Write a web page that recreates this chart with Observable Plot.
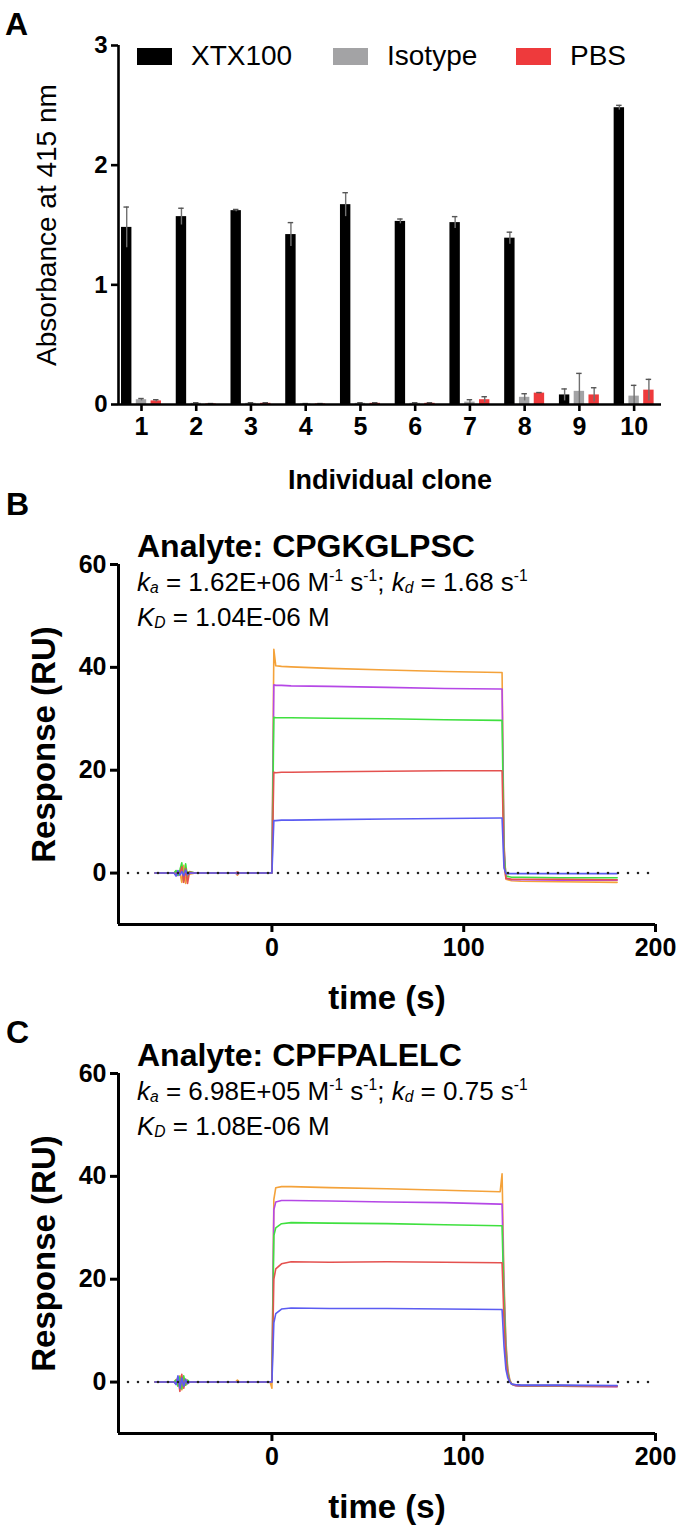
<!DOCTYPE html>
<html><head><meta charset="utf-8">
<script src="https://cdn.jsdelivr.net/npm/d3@7"></script>
<script src="https://cdn.jsdelivr.net/npm/@observablehq/plot@0.6"></script>
<style>
body{margin:0;background:#fff}
#page{position:relative;width:688px;height:1526px;font-family:"Liberation Sans",Arial,sans-serif;color:#000;overflow:hidden;background:#fff}
.abs{position:absolute;white-space:nowrap;line-height:1}
.plab{font-weight:bold;font-size:32px}
.ttl{font-weight:bold;font-size:32px}
.par{font-size:26px}
.par sub,.par sup{font-size:0.6em;line-height:0}
.par sub{vertical-align:-0.15em}
.sw{position:absolute;width:35px;height:17px}
.lt{position:absolute;font-size:28px;line-height:1}
.chart svg{overflow:visible}
.chart g[aria-label="y-axis tick label"] text,.chart g[aria-label="x-axis tick label"] text{font-weight:bold}
#chartA g[aria-label="y-axis label"] text{font-weight:normal;font-size:28px}
#chartA g[aria-label="x-axis label"] text{font-weight:bold;font-size:27px}
#chartB g[aria-label$="axis label"] text,#chartC g[aria-label$="axis label"] text{font-weight:bold;font-size:33px}
</style></head><body><div id="page"></div>
<script>
// ---------- Panel A data ----------
const clones = [1,2,3,4,5,6,7,8,9,10];
const groups = ["XTX100","Isotype","PBS"];
const groupColors = ["#000000","#a3a3a5","#ee3a3c"];
const xtx100    = [1.48,1.57,1.62,1.42,1.67,1.53,1.52,1.39,0.08,2.48];
const xtx100Err = [0.17,0.07,0.01,0.10,0.10,0.02,0.05,0.05,0.05,0.02];
const isotype    = [0.04,0.01,0.01,0.005,0.01,0.01,0.02,0.06,0.11,0.07];
const isotypeErr = [0.01,0.005,0.005,0.003,0.005,0.005,0.02,0.03,0.15,0.09];
const pbs    = [0.03,0.005,0.01,0.005,0.01,0.01,0.04,0.095,0.08,0.12];
const pbsErr = [0.01,0.003,0.005,0.003,0.005,0.005,0.025,0.005,0.06,0.09];
const absTicks = [0,1,2,3];

// ---------- Panels B / C data ----------
const curveNames  = ["conc 5","conc 4","conc 3","conc 2","conc 1"];
const curveColors = ["#f4a23a","#b547e6","#3fe03f","#e4514f","#5b5cf2"];
const timeTicks = [0,100,200];
const respTicks = [0,20,40,60];

const timesB  = [-61,-55,-51,-50,-49,-48,-47,-46,-45,-44,-43,-40,-19,-18,-17,-1,0,1,2,5,10,30,60,90,119,120,121,122,125,130,150,180];
const orangeB = [0,0,0,0.4,-0.3,0.2,-1.8,1.5,-2.0,0.3,-0.2,0, 0,-0.4,0, 0,0,43.5,40.3,40.2,40.1,39.8,39.5,39.2,39.0,39.0,6,-1.2,-1.5,-1.6,-1.7,-1.8];
const purpleB = [0,0,0,0.2,-0.5,0.3,0.8,-0.6,0.4,-0.3,0,0, 0,-0.2,0, 0,0,36.6,36.5,36.5,36.4,36.3,36.1,35.9,35.8,35.8,5,-1.0,-1.3,-1.3,-1.4,-1.4];
const greenB  = [0,0,0,0.5,-0.4,0.6,2.0,-1.5,1.8,-0.8,0.3,0, 0,0,0, 0,0,30.3,30.2,30.2,30.2,30.1,30.0,29.8,29.7,29.7,4,-0.6,-0.8,-0.8,-0.9,-0.9];
const redB    = [0,0,0,-0.3,0.4,-0.2,1.2,-1.8,0.9,-2.0,0.2,0, 0,0.2,0, 0,0,19.6,19.5,19.6,19.6,19.7,19.8,19.9,19.9,19.9,2,-1.0,-1.2,-1.2,-1.2,-1.3];
const blueB   = [0,0,0,-0.6,0.5,-0.4,0.3,-0.5,0.6,-0.3,0,0, 0,0,0, 0,0,10.2,10.2,10.3,10.3,10.4,10.5,10.6,10.7,10.7,1,-0.1,-0.1,-0.1,-0.1,-0.1];

const timesC  = [-61,-55,-51,-50,-49,-48,-47,-46,-45,-44,-43,-40,-19,-18,-17,-1,0,1,2,5,10,30,60,90,119,120,121,122,123,124,125,127,130,150,180];
const orangeC = [0,0,0,0.5,-0.4,1.2,-1.5,0.8,-0.6,0.3,0,0, 0,0.4,0, 0,-1.2,35.5,37.8,38.0,38.0,37.8,37.6,37.3,37.0,40.5,20,8,2.5,0.5,-0.4,-0.7,-0.8,-0.8,-0.9];
const purpleC = [0,0,0,0.3,-0.6,0.5,-0.8,0.6,-0.4,0.2,0,0, 0,0,0, 0,0,33.5,35.0,35.3,35.3,35.2,35.0,34.9,34.6,34.6,18,7,2,0.3,-0.4,-0.7,-0.8,-0.8,-0.9];
const greenC  = [0,0,0,0.4,-0.8,1.0,-1.3,1.2,-0.6,0.4,0,0, 0,0,0, 0,0,28.5,30.0,30.8,31.0,30.9,30.8,30.6,30.4,30.4,16,6,1.8,0.2,-0.4,-0.6,-0.7,-0.7,-0.8];
const redC    = [0,0,0,-0.4,1.0,-1.8,1.5,-1.2,0.6,-0.3,0,0, 0,0,0, 0,0,20.0,22.0,23.0,23.4,23.3,23.4,23.3,23.2,23.2,12,4.5,1.3,0.1,-0.4,-0.6,-0.7,-0.7,-0.8];
const blueC   = [0,0,0,-0.5,1.2,-1.2,0.8,-0.8,0.5,-0.3,0,0, 0,0,0, 0,0,11.5,13.3,14.2,14.4,14.3,14.3,14.2,14.1,14.1,7,2.5,0.8,0,-0.4,-0.5,-0.6,-0.6,-0.7];

// ---------- layout ----------
const page = document.getElementById("page");
const FONT = '"Liberation Sans", Arial, sans-serif';
function place(el, left, top){ el.style.position="absolute"; el.style.left=left+"px"; el.style.top=top+"px"; page.appendChild(el); return el; }
function html(cls, h, left, top){ const d=document.createElement("div"); d.className="abs "+cls; d.innerHTML=h; return place(d,left,top); }

// Panel A
const vals = {XTX100:[xtx100,xtx100Err], Isotype:[isotype,isotypeErr], PBS:[pbs,pbsErr]};
const barRows = clones.flatMap((c,i)=>groups.map(g=>({clone:c, group:g, value:vals[g][0][i], err:vals[g][1][i]})));
const offset = {XTX100:-0.27, Isotype:0, PBS:0.27};
const half = 0.095, cap = 0.05;
const cx = d => d.clone + offset[d.group];
const xDomA = [0.58, 10.5];

const chartA = Plot.plot({
  width:688, height:500, marginTop:45, marginBottom:96, marginLeft:118, marginRight:27,
  style:{fontFamily:FONT, background:"transparent", color:"#000"},
  x:{domain:xDomA}, y:{domain:[0,3]},
  color:{domain:groups, range:groupColors},
  marks:[
    Plot.rectY(barRows,{x1:d=>cx(d)-half, x2:d=>cx(d)+half, y1:0, y2:"value", fill:"group"}),
    Plot.ruleX(barRows,{x:cx, y1:d=>Math.max(0,d.value-d.err), y2:d=>d.value+d.err, stroke:"#707070", strokeWidth:1.4}),
    Plot.ruleY(barRows,{x1:d=>cx(d)-cap, x2:d=>cx(d)+cap, y:d=>d.value+d.err, stroke:"#555", strokeWidth:1.4}),
    Plot.ruleX([xDomA[0]],{stroke:"#000", strokeWidth:2.6}),
    Plot.ruleY([0],{stroke:"#000", strokeWidth:2.6}),
    Plot.axisY({ticks:absTicks, tickFormat:d=>String(d), tickSize:7, tickPadding:4, strokeWidth:2.6, fontSize:24, label:"Absorbance at 415 nm", labelAnchor:"center", labelArrow:"none", labelOffset:82}),
    Plot.axisX({ticks:clones, tickFormat:d=>String(d), tickSize:7, tickPadding:6, strokeWidth:2.6, fontSize:25, label:"Individual clone", labelAnchor:"center", labelArrow:"none", labelOffset:84})
  ]
});
const wA = document.createElement("div"); wA.id="chartA"; wA.className="chart"; wA.appendChild(chartA); place(wA,0,0);

// legend A
const legendX = [137,333,516];
groups.forEach((g,i)=>{
  const s=document.createElement("div"); s.className="sw"; s.style.background=groupColors[i]; place(s, legendX[i], 48);
  const t=document.createElement("div"); t.className="lt"; t.textContent=g; place(t, legendX[i]+54, 42);
});

html("plab","A",5,8);

// Panels B, C
function kinetics(id, times, series, top, mb){
  const data = curveNames.flatMap((s,k)=>times.map((t,i)=>({t, v:series[k][i], s})));
  const xDom=[-80,200], yDom=[-10,60];
  const chart = Plot.plot({
    width:688, height:360+44+mb, marginTop:44, marginBottom:mb, marginLeft:118, marginRight:33,
    style:{fontFamily:FONT, background:"transparent", color:"#000"},
    x:{domain:xDom}, y:{domain:yDom},
    color:{domain:curveNames, range:curveColors},
    marks:[
      Plot.line(data,{x:"t", y:"v", z:"s", stroke:"s", strokeWidth:1.6}),
      Plot.ruleY([0],{stroke:"#222", strokeWidth:2.6, strokeDasharray:"0,10", strokeLinecap:"round"}),
      Plot.ruleX([xDom[0]],{stroke:"#000", strokeWidth:3}),
      Plot.ruleY([yDom[0]],{stroke:"#000", strokeWidth:3}),
      Plot.axisY({ticks:respTicks, tickSize:8, tickPadding:4, strokeWidth:3, fontSize:25, label:"Response (RU)", labelAnchor:"center", labelArrow:"none", labelOffset:87}),
      Plot.axisX({ticks:timeTicks, tickSize:8, tickPadding:6, strokeWidth:3, fontSize:25, label:"time (s)", labelAnchor:"center", labelArrow:"none", labelOffset:84})
    ]
  });
  const w=document.createElement("div"); w.id=id; w.className="chart"; w.appendChild(chart); place(w,0,top);
}
kinetics("chartB",timesB,[orangeB,purpleB,greenB,redB,blueB],520,96);
kinetics("chartC",timesC,[orangeC,purpleC,greenC,redC,blueC],1029,93);

function panelText(title, ka, kd, KD, dy){
  html("ttl","Analyte: "+title,137,530+dy);
  html("par",`<i>k</i><sub><i>a</i></sub> = ${ka} M<sup>-1</sup> s<sup>-1</sup>; <i>k</i><sub><i>d</i></sub> = ${kd} s<sup>-1</sup>`,137,569+dy);
  html("par",`<i>K</i><sub><i>D</i></sub> = ${KD} M`,137,604+dy);
}
html("plab","B",6,488);
html("plab","C",6,1016);
panelText("CPGKGLPSC","1.62E+06","1.68","1.04E-06",0);
panelText("CPFPALELC","6.98E+05","0.75","1.08E-06",509);
</script></body></html>
